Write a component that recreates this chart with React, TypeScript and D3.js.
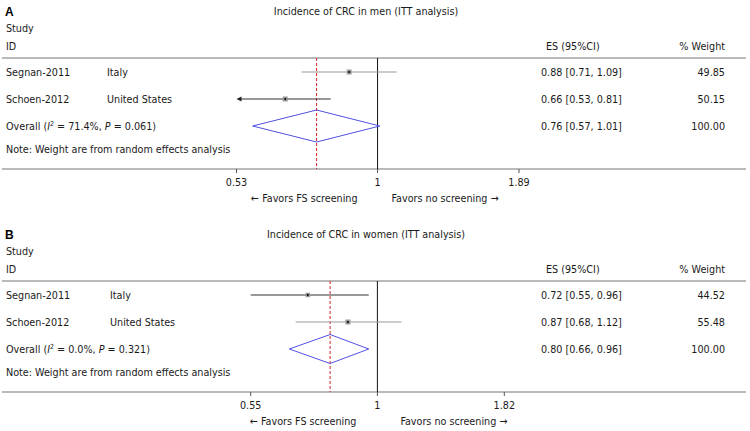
import React from "react";
import * as d3 from "d3";

// ---------- Data ----------
const studiesA = ["Segnan-2011", "Schoen-2012"];
const countriesA = ["Italy", "United States"];
const esA = [0.88, 0.66];
const lowA = [0.71, 0.53];
const highA = [1.09, 0.81];
const weightsA = [49.85, 50.15];
const lowBeyondAxisA = [false, true];
const overallA = [0.76, 0.57, 1.01];
const hetA = ["71.4%", "0.061"];
const ticksA = [0.53, 1, 1.89];

const studiesB = ["Segnan-2011", "Schoen-2012"];
const countriesB = ["Italy", "United States"];
const esB = [0.72, 0.87];
const lowB = [0.55, 0.68];
const highB = [0.96, 1.12];
const weightsB = [44.52, 55.48];
const lowBeyondAxisB = [false, false];
const overallB = [0.8, 0.66, 0.96];
const hetB = ["0.0%", "0.321"];
const ticksB = [0.55, 1, 1.82];

const titles = ["Incidence of CRC in men (ITT analysis)", "Incidence of CRC in women (ITT analysis)"];
const panelLetters = ["A", "B"];

const FONT = "'DejaVu Sans Condensed', 'Liberation Sans', Arial, sans-serif";
const FS = 10.7;

interface PanelProps {
  dy: number;
  letter: string;
  title: string;
  studies: string[];
  countries: string[];
  es: number[];
  low: number[];
  high: number[];
  weights: number[];
  lowBeyond: boolean[];
  overall: number[];
  het: string[];
  ticks: number[];
  xRange: [number, number];
  countryX: number;
  ciColors: string[];
  diamondHalf: number;
  favorLeftOff: number;
  favorRightOff: number;
}

function Panel(p: PanelProps) {
  const x = d3.scaleLog().domain([p.ticks[0], p.ticks[p.ticks.length - 1]]).range(p.xRange);
  const y = d3.scaleLinear().domain([0, 2]).range([72 + p.dy, 126 + p.dy]);
  const headerY = 58 + p.dy;
  const axisY = 169 + p.dy;
  const noteY = 149 + p.dy;
  const maxW = d3.max(p.weights) as number;
  const maxSide = 5;
  const x1 = x(1);
  const xo = x(p.overall[0]);
  const txt = { fontFamily: FONT, fontSize: FS, fill: "#1a1a1a" } as const;
  const fmt = (v: number) => v.toFixed(2);

  return (
    <g>
      <text x={5} y={16 + p.dy} style={{ fontFamily: "'Liberation Sans', Arial, sans-serif", fontSize: 12, fontWeight: "bold" }} fill="#000">
        {p.letter}
      </text>
      <text x={366} y={15 + p.dy} textAnchor="middle" style={txt}>
        {p.title}
      </text>
      <text x={6} y={32 + p.dy} style={txt}>Study</text>
      <text x={6} y={50 + p.dy} style={txt}>ID</text>
      <text x={546} y={50 + p.dy} style={txt}>ES (95%CI)</text>
      <text x={725} y={50 + p.dy} textAnchor="end" style={txt}>% Weight</text>

      <line x1={2} x2={746} y1={headerY} y2={headerY} stroke="#777" strokeWidth={1.2} />
      <line x1={2} x2={746} y1={axisY} y2={axisY} stroke="#777" strokeWidth={1.2} />

      {/* null line */}
      <line x1={x1} x2={x1} y1={headerY} y2={axisY} stroke="#111" strokeWidth={1} />
      {/* overall dashed line */}
      <line x1={xo} x2={xo} y1={headerY} y2={axisY} stroke="#d42020" strokeWidth={1} strokeDasharray="3,2" />

      {p.studies.map((s, i) => {
        const cy = y(i);
        const side = maxSide * Math.sqrt(p.weights[i] / maxW);
        const lx = x(p.low[i]);
        const hx = x(p.high[i]);
        const ex = x(p.es[i]);
        return (
          <g key={s}>
            <text x={6} y={cy + 4} style={txt}>{s}</text>
            <text x={p.countryX} y={cy + 4} style={txt}>{p.countries[i]}</text>
            <line x1={p.lowBeyond[i] ? lx + 3 : lx} x2={hx} y1={cy} y2={cy} stroke={p.ciColors[i]} strokeWidth={1.2} />
            {p.lowBeyond[i] && (
              <path d={`M${lx},${cy} L${lx + 5},${cy - 2.5} L${lx + 5},${cy + 2.5} Z`} fill="#222" />
            )}
            <rect x={ex - side / 2} y={cy - side / 2} width={side} height={side} fill="#9a9a9a" />
            <path d={`M${ex - 1.3},${cy} L${ex},${cy - 1.3} L${ex + 1.3},${cy} L${ex},${cy + 1.3} Z`} fill="#000" />
            <text x={541} y={cy + 4} style={txt}>
              {`${fmt(p.es[i])} [${fmt(p.low[i])}, ${fmt(p.high[i])}]`}
            </text>
            <text x={725} y={cy + 4} textAnchor="end" style={txt}>{fmt(p.weights[i])}</text>
          </g>
        );
      })}

      {(() => {
        const cy = y(2);
        const lx = x(p.overall[1]);
        const hx = x(p.overall[2]);
        const h = p.diamondHalf;
        return (
          <g>
            <text x={6} y={cy + 4} style={txt}>
              Overall (<tspan fontStyle="italic">I</tspan>
              <tspan fontSize={7} dy={-4}>2</tspan>
              <tspan dy={4}>{` = ${p.het[0]}, `}</tspan>
              <tspan fontStyle="italic">P</tspan>
              {` = ${p.het[1]})`}
            </text>
            <path
              d={`M${lx},${cy} L${xo},${cy - h} L${hx},${cy} L${xo},${cy + h} Z`}
              fill="none"
              stroke="#5050e8"
              strokeWidth={1}
            />
            <text x={541} y={cy + 4} style={txt}>
              {`${fmt(p.overall[0])} [${fmt(p.overall[1])}, ${fmt(p.overall[2])}]`}
            </text>
            <text x={725} y={cy + 4} textAnchor="end" style={txt}>
              {fmt(d3.sum(p.weights))}
            </text>
          </g>
        );
      })()}

      <text x={6} y={noteY + 4} style={txt}>Note: Weight are from random effects analysis</text>

      {p.ticks.map((t) => (
        <g key={t}>
          <line x1={x(t)} x2={x(t)} y1={axisY} y2={axisY + 4} stroke="#555" strokeWidth={1} />
          <text x={x(t)} y={axisY + 17} textAnchor="middle" style={txt}>
            {String(t)}
          </text>
        </g>
      ))}
      <text x={x1 + p.favorLeftOff} y={axisY + 33} textAnchor="end" style={txt}>
        ← Favors FS screening
      </text>
      <text x={x1 + p.favorRightOff} y={axisY + 33} style={txt}>
        Favors no screening →
      </text>
    </g>
  );
}

export default function App() {
  return (
    <svg
      width={750}
      height={431}
      style={{ position: "absolute", left: 0, top: 0, background: "#fff" }}
    >
      <rect width={750} height={431} fill="#fff" />
      <Panel
        dy={0}
        letter={panelLetters[0]}
        title={titles[0]}
        studies={studiesA}
        countries={countriesA}
        es={esA}
        low={lowA}
        high={highA}
        weights={weightsA}
        lowBeyond={lowBeyondAxisA}
        overall={overallA}
        het={hetA}
        ticks={ticksA}
        xRange={[236.5, 519]}
        countryX={107}
        ciColors={["#999", "#333"]}
        diamondHalf={16}
        favorLeftOff={-20}
        favorRightOff={14}
      />
      <Panel
        dy={223}
        letter={panelLetters[1]}
        title={titles[1]}
        studies={studiesB}
        countries={countriesB}
        es={esB}
        low={lowB}
        high={highB}
        weights={weightsB}
        lowBeyond={lowBeyondAxisB}
        overall={overallB}
        het={hetB}
        ticks={ticksB}
        xRange={[250.7, 504.3]}
        countryX={110}
        ciColors={["#333", "#999"]}
        diamondHalf={14.5}
        favorLeftOff={-21}
        favorRightOff={23}
      />
    </svg>
  );
}
